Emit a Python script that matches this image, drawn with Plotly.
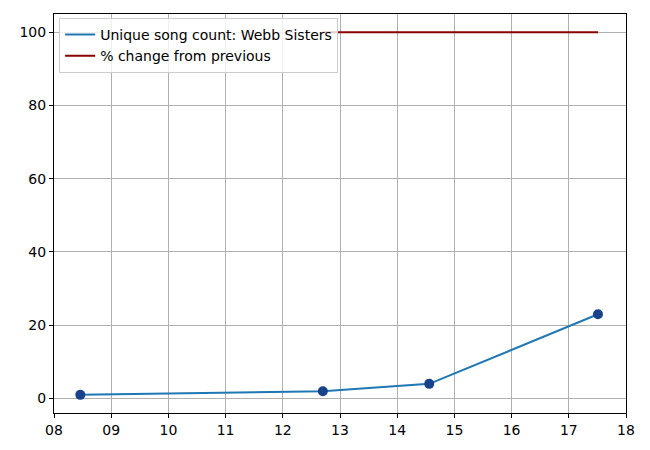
import plotly.graph_objects as go

# Data
x_vals = [8.46, 12.70, 14.56, 17.51]
song_counts = [1, 2, 4, 23]
pct_x = [12.70, 14.56, 17.51]
pct_change = [100, 100, 100]
x_tick_vals = [8, 9, 10, 11, 12, 13, 14, 15, 16, 17, 18]
x_tick_text = ["08", "09", "10", "11", "12", "13", "14", "15", "16", "17", "18"]
y_tick_vals = [0, 20, 40, 60, 80, 100]

fig = go.Figure()
fig.add_trace(go.Scatter(
    x=x_vals, y=song_counts, mode="lines",
    line=dict(color="#1f77b4", width=2),
    name="Unique song count: Webb Sisters",
))
fig.add_trace(go.Scatter(
    x=pct_x, y=pct_change, mode="lines",
    line=dict(color="#8b0000", width=2),
    name="% change from previous",
))
fig.add_trace(go.Scatter(
    x=x_vals, y=song_counts, mode="markers",
    marker=dict(color="#1a428a", size=10),
    showlegend=False, hoverinfo="skip",
))

axis_common = dict(
    showline=True, linecolor="black", linewidth=1, mirror=True,
    ticks="outside", ticklen=4, tickcolor="black", tickwidth=1,
    showgrid=True, gridcolor="#b0b0b0", gridwidth=1,
    zeroline=False,
    tickfont=dict(family="DejaVu Sans", size=14, color="black"),
)

fig.update_layout(
    width=650, height=450,
    margin=dict(l=46, r=32, t=6, b=45),
    paper_bgcolor="white", plot_bgcolor="white",
    font=dict(family="DejaVu Sans", size=14, color="black"),
    xaxis=dict(range=[8, 18], tickvals=x_tick_vals, ticktext=x_tick_text, **axis_common),
    yaxis=dict(range=[-3.95, 104.95], tickvals=y_tick_vals, **axis_common),
    legend=dict(
        x=0.009, y=0.99, xanchor="left", yanchor="top",
        bgcolor="rgba(255,255,255,0.8)", bordercolor="#cccccc", borderwidth=1,
        font=dict(family="DejaVu Sans", size=14, color="black"),
        tracegroupgap=0, itemwidth=30,
    ),
    showlegend=True,
)

fig.write_html("out.html")
